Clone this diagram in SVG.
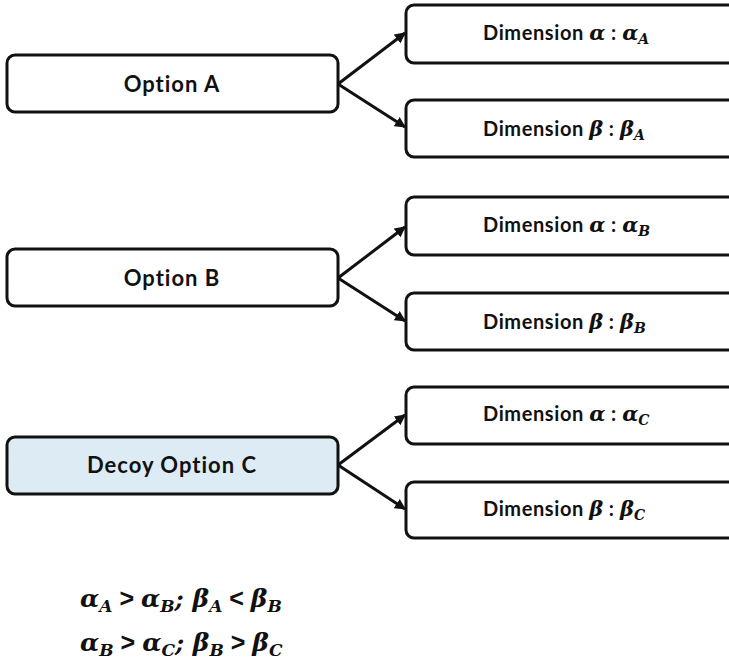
<svg xmlns="http://www.w3.org/2000/svg" width="729" height="671" viewBox="0 0 729 671">
  <defs>
    <marker id="arrow" viewBox="0 0 10 10" refX="9" refY="5" markerWidth="11" markerHeight="11" markerUnits="userSpaceOnUse" orient="auto">
      <path d="M0,0 L10,5 L0,10 z" fill="#111"/>
    </marker>
    <style>
      .box { fill: #ffffff; stroke: #111; stroke-width: 3; }
      .decoy { fill: #dcebf4; }
      .opt { font-family: "Lato", "Liberation Sans", sans-serif; font-weight: 700; font-size: 22px; letter-spacing: 1px; fill: #111; }
      .lbl { font-family: "Lato", "Liberation Sans", sans-serif; font-weight: 700; font-size: 20px; letter-spacing: 0.6px; fill: #111; }
      .m { font-family: "DejaVu Serif", "Liberation Serif", serif; font-style: italic; font-weight: 700; font-size: 21px; letter-spacing: 0; }
      .sub { font-size: 14px; }
      .eq { font-family: "DejaVu Serif", "Liberation Serif", serif; font-style: italic; font-weight: 700; font-size: 25px; fill: #111; }
      .eqsub { font-size: 17px; }
      .op { font-family: "Liberation Sans", sans-serif; font-style: normal; font-weight: 700; }
      .conn { stroke: #111; stroke-width: 3; fill: none; marker-end: url(#arrow); }
    </style>
  </defs>

  <!-- connectors -->
  <g id="connectors">
    <line class="conn" x1="338" y1="84" x2="405" y2="33"/>
    <line class="conn" x1="338" y1="84" x2="405" y2="127"/>
    <line class="conn" x1="338" y1="278" x2="405" y2="227"/>
    <line class="conn" x1="338" y1="278" x2="405" y2="321"/>
    <line class="conn" x1="338" y1="465" x2="405" y2="415"/>
    <line class="conn" x1="338" y1="465" x2="405" y2="509"/>
  </g>

  <!-- options -->
  <g id="optionA">
    <rect class="box" x="7" y="55" width="331" height="57" rx="8"/>
    <text class="opt" x="172" y="92" text-anchor="middle">Option A</text>
  </g>
  <g id="optionB">
    <rect class="box" x="7" y="249" width="331" height="57" rx="8"/>
    <text class="opt" x="172" y="286" text-anchor="middle">Option B</text>
  </g>
  <g id="optionC">
    <rect class="box decoy" x="7" y="437" width="331" height="57" rx="8"/>
    <text class="opt" x="172" y="473" text-anchor="middle">Decoy Option C</text>
  </g>

  <!-- dimensions -->
  <g id="alphaA">
    <rect class="box" x="406" y="5" width="340" height="58" rx="8"/>
    <text class="lbl" x="483" y="40">Dimension <tspan class="m">α</tspan> : <tspan class="m">α</tspan><tspan class="m sub" dy="4">A</tspan></text>
  </g>
  <g id="betaA">
    <rect class="box" x="406" y="100" width="340" height="57" rx="8"/>
    <text class="lbl" x="483" y="136">Dimension <tspan class="m">β</tspan> : <tspan class="m">β</tspan><tspan class="m sub" dy="4">A</tspan></text>
  </g>
  <g id="alphaB">
    <rect class="box" x="406" y="197" width="340" height="58" rx="8"/>
    <text class="lbl" x="483" y="232">Dimension <tspan class="m">α</tspan> : <tspan class="m">α</tspan><tspan class="m sub" dy="4">B</tspan></text>
  </g>
  <g id="betaB">
    <rect class="box" x="406" y="293" width="340" height="57" rx="8"/>
    <text class="lbl" x="483" y="329">Dimension <tspan class="m">β</tspan> : <tspan class="m">β</tspan><tspan class="m sub" dy="4">B</tspan></text>
  </g>
  <g id="alphaC">
    <rect class="box" x="406" y="387" width="340" height="57" rx="8"/>
    <text class="lbl" x="483" y="421">Dimension <tspan class="m">α</tspan> : <tspan class="m">α</tspan><tspan class="m sub" dy="4">C</tspan></text>
  </g>
  <g id="betaC">
    <rect class="box" x="406" y="482" width="340" height="56" rx="8"/>
    <text class="lbl" x="483" y="516">Dimension <tspan class="m">β</tspan> : <tspan class="m">β</tspan><tspan class="m sub" dy="4">C</tspan></text>
  </g>

  <!-- relations -->
  <g id="relations">
    <text class="eq" x="80" y="607">α<tspan class="eqsub" dy="5">A</tspan><tspan class="op" dy="-5"> &gt; </tspan>α<tspan class="eqsub" dy="5">B</tspan><tspan dy="-5">; β</tspan><tspan class="eqsub" dy="5">A</tspan><tspan class="op" dy="-5"> &lt; </tspan>β<tspan class="eqsub" dy="5">B</tspan></text>
    <text class="eq" x="80" y="651">α<tspan class="eqsub" dy="5">B</tspan><tspan class="op" dy="-5"> &gt; </tspan>α<tspan class="eqsub" dy="5">C</tspan><tspan dy="-5">; β</tspan><tspan class="eqsub" dy="5">B</tspan><tspan class="op" dy="-5"> &gt; </tspan>β<tspan class="eqsub" dy="5">C</tspan></text>
  </g>
</svg>
